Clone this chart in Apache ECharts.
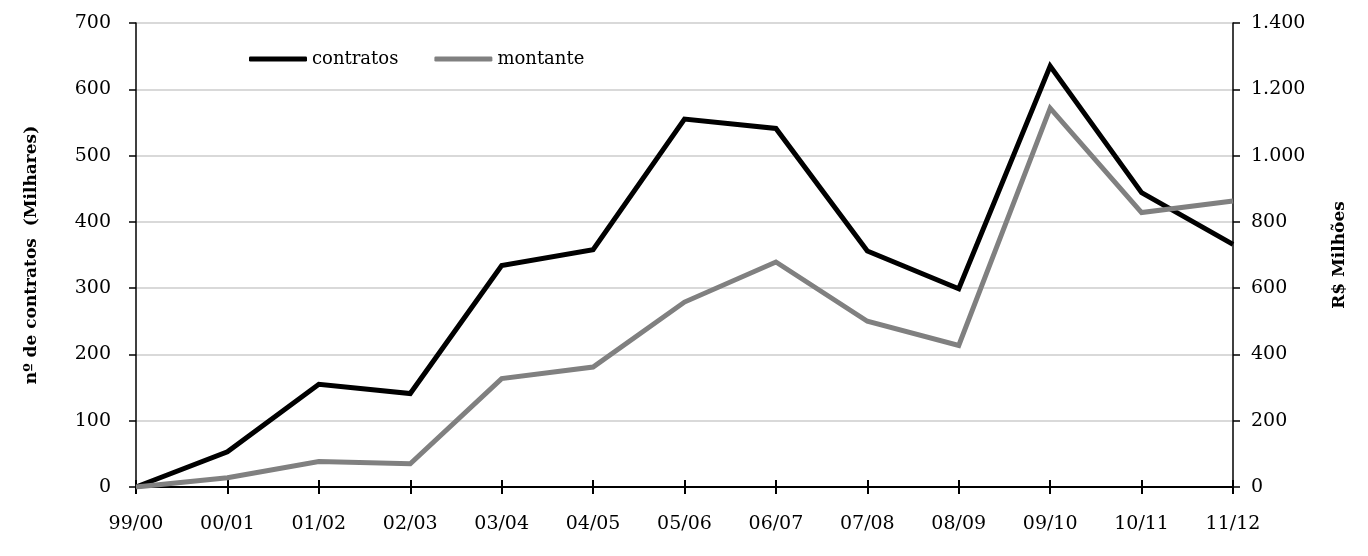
<!DOCTYPE html>
<html>
<head>
<meta charset="utf-8">
<script src="https://cdn.jsdelivr.net/npm/echarts@6/dist/echarts.min.js"></script>
<style>html,body{margin:0;padding:0;background:#fff;}#chart{width:1368px;height:556px;}</style>
</head>
<body>
<div id="chart"></div>
<script>
var categories = ['99/00','00/01','01/02','02/03','03/04','04/05','05/06','06/07','07/08','08/09','09/10','10/11','11/12'];
var contratos = [0, 53, 155, 141, 334, 358, 555, 541, 356, 299, 635, 444, 366];
var montante = [0, 28, 77, 70, 327, 362, 558, 679, 500, 427, 1143, 828, 863];
var leftTicks = [0, 700, 100];
var rightTicks = [0, 1400, 200];

var FONT = 'DejaVu Serif';
var chart = echarts.init(document.getElementById('chart'));
function fmtPt(v){ return String(v).replace(/\B(?=(\d{3})+(?!\d))/g, '.'); }
chart.setOption({
  animation: false,
  backgroundColor: '#fff',
  textStyle: { fontFamily: FONT, color: '#000' },
  legend: {
    left: 244, top: 45,
    icon: 'roundRect', itemWidth: 58, itemHeight: 5, itemGap: 36,
    textStyle: { fontFamily: FONT, fontSize: 18, color: '#000', padding: [0,0,0,0] },
    data: ['contratos', 'montante']
  },
  grid: { left: 136, right: 135, top: 23, bottom: 69, containLabel: false },
  xAxis: [{
    type: 'category', data: categories, boundaryGap: false,
    axisLine: { lineStyle: { color: '#000', width: 2 } },
    axisTick: { show: true, length: 7, lineStyle: { color: '#000', width: 2 }, interval: 0 },
    axisLabel: { fontFamily: FONT, fontSize: 19, color: '#000', margin: 28, interval: 0 },
    splitLine: { show: false }
  }, {
    type: 'category', data: categories, boundaryGap: false, position: 'bottom',
    axisLine: { show: false },
    axisTick: { show: true, inside: true, length: 7, lineStyle: { color: '#000', width: 2 }, interval: 0 },
    axisLabel: { show: false },
    splitLine: { show: false }
  }],
  yAxis: [{
    type: 'value', min: leftTicks[0], max: leftTicks[1], interval: leftTicks[2],
    name: 'nº de contratos  (Milhares)', nameLocation: 'middle', nameGap: 96, nameRotate: 90,
    nameTextStyle: { fontFamily: FONT, fontSize: 17, fontWeight: 'bold', color: '#000' },
    axisLine: { show: true, lineStyle: { color: '#000', width: 1.5 } },
    axisTick: { show: true, length: 7, lineStyle: { color: '#000', width: 1.5 } },
    axisLabel: { fontFamily: FONT, fontSize: 19, color: '#000', margin: 25 },
    splitLine: { show: true, lineStyle: { color: '#d9d9d9', width: 2 } }
  }, {
    type: 'value', min: rightTicks[0], max: rightTicks[1], interval: rightTicks[2], position: 'right',
    name: 'R$ Milhões', nameLocation: 'middle', nameGap: 98, nameRotate: 90,
    nameTextStyle: { fontFamily: FONT, fontSize: 17, fontWeight: 'bold', color: '#000' },
    axisLine: { show: true, lineStyle: { color: '#000', width: 1.5 } },
    axisTick: { show: true, length: 7, lineStyle: { color: '#000', width: 1.5 } },
    axisLabel: { fontFamily: FONT, fontSize: 19, color: '#000', margin: 18, formatter: fmtPt },
    splitLine: { show: false }
  }],
  series: [{
    name: 'contratos', type: 'line', data: contratos, yAxisIndex: 0, xAxisIndex: 0,
    symbol: 'none', color: '#000',
    lineStyle: { color: '#000', width: 5, join: 'miter' }
  }, {
    name: 'montante', type: 'line', data: montante, yAxisIndex: 1, xAxisIndex: 0,
    symbol: 'none', color: '#808080',
    lineStyle: { color: '#808080', width: 5, join: 'miter' }
  }]
});
</script>
</body>
</html>
